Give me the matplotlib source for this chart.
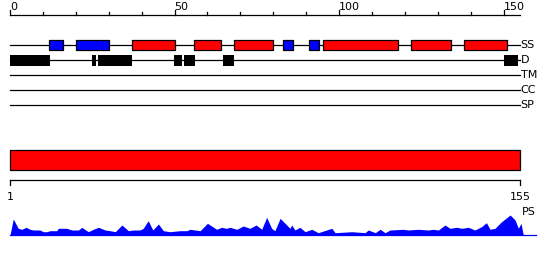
import numpy as np
import matplotlib.pyplot as plt

# sequence length and track data (residue positions)
seq_len = 155
helix = [(37, 50), (56, 64), (68, 80), (95, 118), (122, 134), (138, 151)]
strand = [(12, 16), (20, 30), (83, 86), (91, 94)]
disorder = [(0, 12.2), (24.9, 26.1), (26.7, 37.1), (49.9, 52.2),
            (52.9, 56.2), (64.7, 68.1), (150, 154.4)]
tracks = ['SS', 'D', 'TM', 'CC', 'SP']

# PS profile (position, score)
ps_pos = [0, 1.0, 2.5, 3.6, 4.9, 6.1, 7.1, 9.1, 10.1, 11.2, 12.2, 14.2, 14.7, 17.2,
          18.8, 20.8, 21.8, 23.8, 25.3, 26.9, 28.9, 30.4, 32.0, 34.0, 36.0, 37.5,
          39.5, 40.5, 42.0, 43.4, 45.1, 46.6, 48.6, 51.7, 53.7, 54.7, 57.8, 60.0,
          62.8, 64.3, 65.8, 66.9, 68.9, 70.9, 72.9, 74.8, 76.5, 78.0, 79.5, 80.5,
          82.1, 83.6, 85.1, 85.6, 86.6, 88.1, 89.7, 91.7, 93.7, 97.8, 98.8, 103.9,
          107.9, 108.9, 111.0, 112.5, 114.0, 115.5, 119.5, 121.0, 124.0, 127.1,
          128.6, 130.2, 132.2, 133.7, 135.8, 137.3, 139.3, 141.3, 143.3, 144.8,
          145.9, 147.4, 149.4, 152.0, 153.5, 154.5, 155.3, 156.0]
ps_val = [0, 16, 6.7, 5.7, 7.7, 5.7, 5, 5, 3.3, 3.3, 4.3, 4.3, 6.7, 6.7,
          5, 5, 7.7, 3.3, 5.7, 7.7, 5, 4.3, 3.3, 10, 4.3, 5,
          5, 6.7, 14.3, 5, 11, 4.3, 3.3, 4.3, 4.3, 5.7, 4.3, 11.7,
          5.7, 7.7, 6.7, 7.7, 5.7, 9, 6.7, 10, 5.7, 17.7, 6.7, 4.3,
          16.7, 11.7, 6.7, 10, 5, 7.7, 3.3, 5.7, 2.3, 6.7, 2.3, 3.3,
          2.3, 5, 2.3, 5.7, 2.3, 5, 5.7, 5, 5.7, 5,
          5.7, 5, 10, 6.7, 7.7, 6.7, 7.7, 5, 8.3, 12.3,
          5.7, 6.7, 13.3, 20, 15, 6.7, 11.7, 0]

k = 510 / seq_len  # pixels per residue
fig = plt.figure(figsize=(5.5, 2.6), dpi=100)
ax = fig.add_axes([0, 0, 1, 1])
ax.set_xlim(-10 / k, 540 / k)
ax.set_ylim(260, 0)
ax.axis('off')
lw = 0.9
fs = 8

# top ruler
ax.plot([0, seq_len], [15, 15], color='black', lw=lw)
for t in range(0, 151, 10):
    top = 10 if t % 50 == 0 else 11.7
    ax.plot([t, t], [15, top], color='black', lw=lw)
    if t % 50 == 0:
        ax.text(t, 10, str(t), ha='left', va='baseline', fontsize=fs)

# tracks
for i, name in enumerate(tracks):
    y = 45 + 15 * i
    ax.plot([0, seq_len], [y, y], color='black', lw=lw, zorder=1)
    ax.text(seq_len + 0.2, y, name, ha='left', va='center', fontsize=fs)

ax.broken_barh([(a, b - a) for a, b in strand], (40, 10), facecolor='#0000ff',
               edgecolor='black', lw=lw, zorder=2)
ax.broken_barh([(a, b - a) for a, b in helix], (40, 10), facecolor='#ff0000',
               edgecolor='black', lw=lw, zorder=2)
ax.broken_barh([(a, b - a) for a, b in disorder], (55, 10.5), facecolor='black',
               edgecolor='none', zorder=2)

# domain bar
ax.broken_barh([(0, seq_len)], (150, 20), facecolor='#ff0000', edgecolor='black',
               lw=lw)

# bottom ruler
ax.plot([0, seq_len], [180, 180], color='black', lw=lw)
for t in (0, seq_len):
    ax.plot([t, t], [180, 185], color='black', lw=lw)
ax.text(0, 200, '1', ha='center', va='baseline', fontsize=fs)
ax.text(seq_len, 200, str(seq_len), ha='center', va='baseline', fontsize=fs)

# PS profile
base = 235
ps_y = base - np.array(ps_val)
ax.fill_between(ps_pos, base, ps_y, color='#0000ff', lw=0)
ax.plot([0, 160], [base, base], color='#0000ff', lw=lw)
ax.text(seq_len + 0.5, 215, 'PS', ha='left', va='baseline', fontsize=fs)

plt.savefig('out.png', dpi=100)
